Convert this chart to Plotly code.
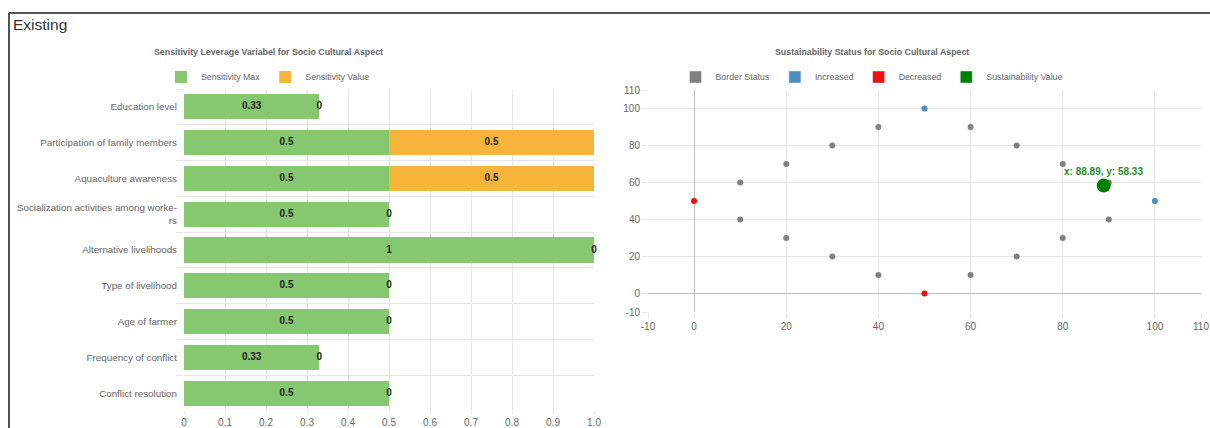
import plotly.graph_objects as go

# ---------------- data ----------------
categories = [
    "Education level",
    "Participation of family members",
    "Aquaculture awareness",
    "Socialization activities among worke-<br>rs",
    "Alternative livelihoods",
    "Type of livelihood",
    "Age of farmer",
    "Frequency of conflict",
    "Conflict resolution",
]
sensitivity_max = [0.33, 0.5, 0.5, 0.5, 1, 0.5, 0.5, 0.33, 0.5]
sensitivity_value = [0, 0.5, 0.5, 0, 0, 0, 0, 0, 0]
bar_x_ticks = [0, 0.1, 0.2, 0.3, 0.4, 0.5, 0.6, 0.7, 0.8, 0.9, 1.0]
bar_x_ticktext = ["0", "0.1", "0.2", "0.3", "0.4", "0.5", "0.6", "0.7", "0.8", "0.9", "1.0"]

border_x = [10, 10, 20, 20, 30, 30, 40, 40, 60, 60, 70, 70, 80, 80, 90, 90]
border_y = [60, 40, 70, 30, 80, 20, 90, 10, 90, 10, 80, 20, 70, 30, 60, 40]
increased_x = [50, 100]
increased_y = [100, 50]
decreased_x = [0, 50]
decreased_y = [50, 0]
sustain_x = [88.89]
sustain_y = [58.33]
scatter_ticks = [-10, 0, 20, 40, 60, 80, 100, 110]
scatter_ticktext = ["-10", "0", "20", "40", "60", "80", "100", "110"]

# ---------------- styles ----------------
W, H = 1210, 428
GREEN = "#86c86f"
ORANGE = "#f6b53a"
FONT = "Liberation Sans"
GRID = "#e5e5e5"
TXT = "#666666"

def px(x):
    return x / W

def py(y):
    return 1 - y / H

fig = go.Figure()

# Left chart: stacked horizontal bars
fig.add_trace(go.Bar(
    y=categories, x=sensitivity_max, orientation="h", name="Sensitivity Max",
    marker=dict(color=GREEN, line=dict(width=0)), xaxis="x", yaxis="y",
    legend="legend", hoverinfo="x+y",
))
fig.add_trace(go.Bar(
    y=categories, x=sensitivity_value, orientation="h", name="Sensitivity Value",
    marker=dict(color=ORANGE, line=dict(width=0)), xaxis="x", yaxis="y",
    legend="legend", hoverinfo="x+y",
))
# centered data labels
fig.add_trace(go.Scatter(
    y=categories, x=[m / 2 for m in sensitivity_max], mode="text",
    text=[f"<b>{m:g}</b>" for m in sensitivity_max], showlegend=False,
    textfont=dict(family=FONT, size=10, color="#222222"),
    xaxis="x", yaxis="y", cliponaxis=False, hoverinfo="skip",
))
fig.add_trace(go.Scatter(
    y=categories, x=[m + v / 2 for m, v in zip(sensitivity_max, sensitivity_value)],
    mode="text", text=[f"<b>{v:g}</b>" for v in sensitivity_value], showlegend=False,
    textfont=dict(family=FONT, size=10, color="#222222"),
    xaxis="x", yaxis="y", cliponaxis=False, hoverinfo="skip",
))

# Right chart: scatter
fig.add_trace(go.Scatter(
    x=border_x, y=border_y, mode="markers", name="Border Status", showlegend=False,
    marker=dict(color="#808080", size=6), xaxis="x2", yaxis="y2",
))
fig.add_trace(go.Scatter(
    x=increased_x, y=increased_y, mode="markers", name="Increased", showlegend=False,
    marker=dict(color="#4a8fc2", size=6), xaxis="x2", yaxis="y2",
))
fig.add_trace(go.Scatter(
    x=decreased_x, y=decreased_y, mode="markers", name="Decreased", showlegend=False,
    marker=dict(color="#e81010", size=6), xaxis="x2", yaxis="y2",
))
fig.add_trace(go.Scatter(
    x=sustain_x, y=sustain_y, mode="markers", name="Sustainability Value", showlegend=False,
    marker=dict(color="#008000", size=14), xaxis="x2", yaxis="y2",
))
# legend entries (box style) for scatter series
for name, col in [("Border Status", "#808080"), ("Increased", "#4a8fc2"),
                  ("Decreased", "#e81010"), ("Sustainability Value", "#008000")]:
    fig.add_trace(go.Bar(x=[None], y=[None], name=name, marker=dict(color=col),
                         xaxis="x2", yaxis="y2", legend="legend2"))

axis_font = dict(family=FONT, size=10, color=TXT)
cat_font = dict(family=FONT, size=9.8, color=TXT)
legend_font = dict(family=FONT, size=8.8, color=TXT)
title_font = dict(family=FONT, size=8.8, color=TXT)

fig.update_layout(
    width=W, height=H, autosize=False,
    margin=dict(l=0, r=0, t=0, b=0, pad=0),
    paper_bgcolor="white", plot_bgcolor="white",
    barmode="stack", bargap=0.3,
    font=dict(family=FONT, size=10, color=TXT),
    xaxis=dict(
        domain=[px(184), px(594)], range=[0, 1], tickvals=bar_x_ticks, ticktext=bar_x_ticktext,
        showgrid=True, gridcolor=GRID, zeroline=False, ticks="outside", ticklen=2,
        tickcolor=GRID, tickfont=axis_font, anchor="y", fixedrange=True,
        showline=False, automargin=False,
    ),
    yaxis=dict(
        domain=[py(411), py(89)], autorange="reversed", type="category",
        tickson="boundaries", showgrid=True, gridcolor=GRID, ticks="outside", ticklen=7,
        tickcolor=GRID, tickfont=cat_font, anchor="x", showline=False, zeroline=False,
        automargin=False, ticklabelstandoff=6,
    ),
    xaxis2=dict(
        domain=[px(648), px(1201)], range=[-10, 110], tickmode="array", tickvals=scatter_ticks,
        ticktext=scatter_ticktext,
        showgrid=True, gridcolor=GRID, zeroline=True, zerolinecolor="#bdbdbd", zerolinewidth=1,
        ticks="outside", ticklen=5, tickcolor=GRID, tickfont=axis_font, anchor="y2",
        showline=False, automargin=False,
    ),
    yaxis2=dict(
        domain=[py(312), py(90)], range=[-10, 110], tickmode="array", tickvals=scatter_ticks,
        ticktext=scatter_ticktext,
        showgrid=True, gridcolor=GRID, zeroline=True, zerolinecolor="#bdbdbd", zerolinewidth=1,
        ticks="outside", ticklen=5, tickcolor=GRID, tickfont=axis_font, anchor="x2",
        showline=False, automargin=False,
    ),
    legend=dict(
        orientation="h", x=px(268), xanchor="center", y=py(77), yanchor="middle",
        font=legend_font, bgcolor="rgba(0,0,0,0)",
        itemclick=False, itemdoubleclick=False, traceorder="normal",
    ),
    legend2=dict(
        orientation="h", x=px(872), xanchor="center", y=py(77), yanchor="middle",
        font=legend_font, bgcolor="rgba(0,0,0,0)",
        itemclick=False, itemdoubleclick=False, traceorder="normal",
    ),
    annotations=[
        dict(text="Existing", x=px(11), y=py(24), xref="paper", yref="paper",
             xanchor="left", yanchor="middle", showarrow=False,
             font=dict(family=FONT, size=15.5, color="#333333")),
        dict(text="<b>Sensitivity Leverage Variabel for Socio Cultural Aspect</b>",
             x=px(268), y=py(52), xref="paper", yref="paper", xanchor="center",
             yanchor="middle", showarrow=False, font=title_font),
        dict(text="<b>Sustainability Status for Socio Cultural Aspect</b>",
             x=px(872), y=py(52), xref="paper", yref="paper", xanchor="center",
             yanchor="middle", showarrow=False, font=title_font),
        dict(text=f"<b>x: {sustain_x[0]}, y: {sustain_y[0]}</b>", x=sustain_x[0], y=sustain_y[0],
             xref="x2", yref="y2", showarrow=False, yshift=14, yanchor="middle",
             font=dict(family=FONT, size=10, color="#2e8b2e")),
    ],
    shapes=[
        dict(type="line", xref="paper", yref="paper", x0=px(9), x1=1, y0=py(13), y1=py(13),
             line=dict(color="#555555", width=2)),
        dict(type="line", xref="paper", yref="paper", x0=px(9), x1=px(9), y0=0, y1=py(13),
             line=dict(color="#555555", width=2)),
    ],
)

fig.write_html(
    "out.html",
    config={"displayModeBar": False},
    post_script="document.body.style.margin='0';document.body.style.overflow='hidden';",
)
